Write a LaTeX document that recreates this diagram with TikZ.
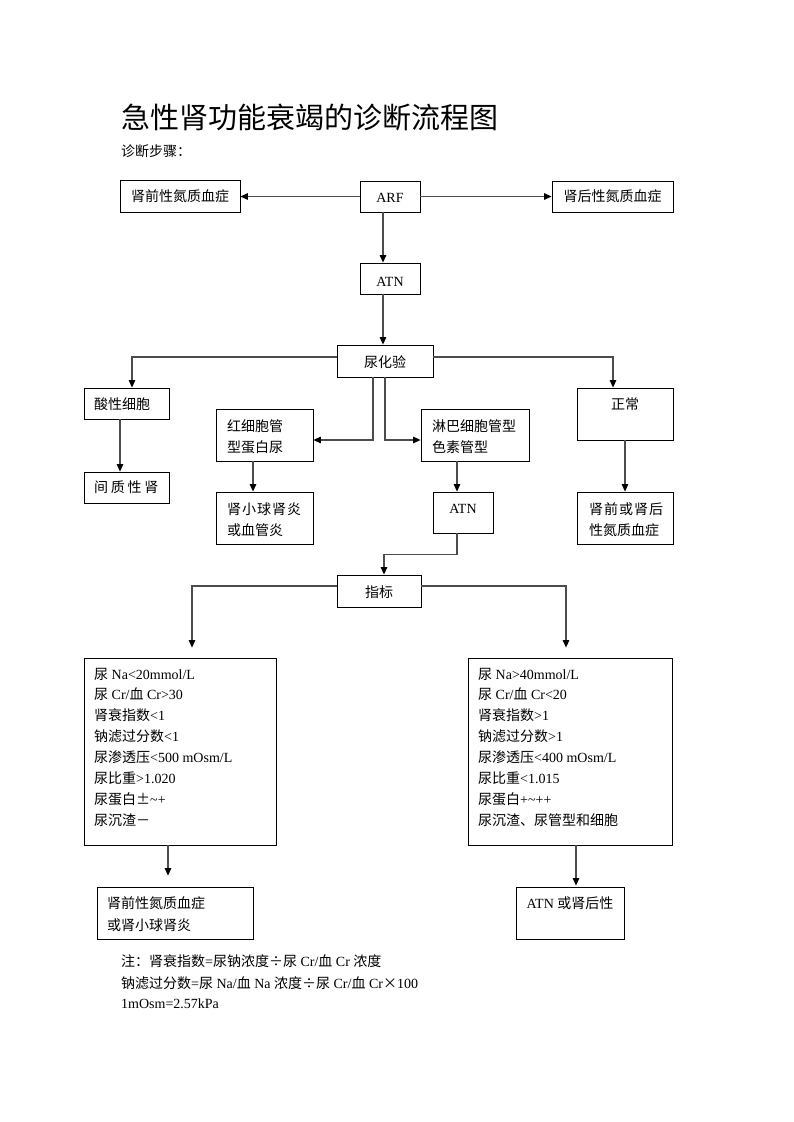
\documentclass[tikz,border=0pt]{standalone}
\usepackage{fontspec}
\setmainfont{Liberation Serif}
\newfontfamily\zh{Noto Sans CJK SC}
\usetikzlibrary{arrows.meta}
\newcommand\bx[5]{\node[box, minimum width={(#4-#2)*1pt}, minimum height={(#5-#3)*1pt}] (#1) at ({(#2+#4)/2},{(#3+#5)/2}) {};}
\begin{document}
\begin{tikzpicture}[x=1pt,y=-1pt,
  every node/.style={font=\fontsize{14}{21}\selectfont, inner sep=0pt},
  box/.style={draw=black, line width=0.8pt, rectangle, inner sep=0pt},
  arr/.style={draw=black!70, line width=1.2pt, -{Triangle[length=7.5pt,width=6.5pt,color=black]}},
  tx/.style={anchor=base},
  tl/.style={anchor=base west}]
\useasboundingbox (0,0) rectangle (793,1122);
\fill[white] (0,0) rectangle (793,1122);

% title
\node[tl] (title) at (121,128) {\zh\fontsize{29}{34}\selectfont 急性肾功能衰竭的诊断流程图};
\node[tl] (steps) at (121,156) {\zh 诊断步骤：};

% boxes
\bx{pre}{120}{180}{240}{212}
\bx{arf}{360}{181}{420}{212}
\bx{post}{552}{181}{673}{212}
\bx{atnA}{360}{263}{420}{294}
\bx{ua}{337}{345}{433}{377}
\bx{acid}{84}{388}{169}{419}
\bx{red}{216}{409}{313}{461}
\bx{lym}{421}{409}{529}{461}
\bx{normal}{577}{388}{673}{440}
\bx{inter}{84}{472}{169}{503}
\bx{glom}{216}{492}{313}{544}
\bx{atnB}{433}{492}{493}{533}
\bx{prepost}{577}{492}{673}{544}
\bx{zb}{337}{575}{421}{607}
\bx{lbig}{84}{658}{276}{845}
\bx{rbig}{468}{658}{672}{845}
\bx{lres}{97}{887}{253}{939}
\bx{rres}{516}{887}{624}{939}

% texts
\node[tx] (t-pre) at (180,201) {\zh 肾前性氮质血症};
\node[tx] (t-arf) at (390,202) {ARF};
\node[tx] (t-post) at (612.5,201) {\zh 肾后性氮质血症};
\node[tx] (t-atnA) at (390,286) {ATN};
\node[tx] (t-ua) at (385,367) {\zh 尿化验};
\node[tl] (t-acid) at (94,409) {\zh 酸性细胞};
\node[tl] (t-red1) at (227,431) {\zh 红细胞管};
\node[tl] (t-red2) at (227,452) {\zh 型蛋白尿};
\node[tl] (t-lym1) at (432,431) {\zh 淋巴细胞管型};
\node[tl] (t-lym2) at (432,452) {\zh 色素管型};
\node[tx] (t-normal) at (625,409) {\zh 正常};
\node[tl] (t-inter) at (94,492) {\zh 间\hspace{2.7pt}质\hspace{2.7pt}性\hspace{2.7pt}肾};
\node[tl] (t-glom1) at (227,514) {\zh 肾\hspace{1pt}小\hspace{1pt}球\hspace{1pt}肾\hspace{1pt}炎};
\node[tl] (t-glom2) at (227,535) {\zh 或血管炎};
\node[tx] (t-atnB) at (463,513) {ATN};
\node[tl] (t-pp1) at (589,514) {\zh 肾\hspace{1pt}前\hspace{1pt}或\hspace{1pt}肾\hspace{1pt}后};
\node[tl] (t-pp2) at (589,535) {\zh 性氮质血症};
\node[tx] (t-zb) at (379,597) {\zh 指标};

\foreach \i/\t in {0/{{\zh 尿} Na<20mmol/L},
                   1/{{\zh 尿} Cr/{\zh 血} Cr>30},
                   2/{{\zh 肾衰指数}<1},
                   3/{{\zh 钠滤过分数}<1},
                   4/{{\zh 尿渗透压}<500 mOsm/L},
                   5/{{\zh 尿比重}>1.020},
                   6/{{\zh 尿蛋白±}\textasciitilde+},
                   7/{{\zh 尿沉渣－}}}
  \node[tl] (L\i) at (94,{679+20.9*\i}) {\t};

\foreach \i/\t in {0/{{\zh 尿} Na>40mmol/L},
                   1/{{\zh 尿} Cr/{\zh 血} Cr<20},
                   2/{{\zh 肾衰指数}>1},
                   3/{{\zh 钠滤过分数}>1},
                   4/{{\zh 尿渗透压}<400 mOsm/L},
                   5/{{\zh 尿比重}<1.015},
                   6/{{\zh 尿蛋白}+\textasciitilde++},
                   7/{{\zh 尿沉渣、尿管型和细胞}}}
  \node[tl] (R\i) at (478,{679+20.9*\i}) {\t};

\node[tl] (t-lres1) at (107,908) {\zh 肾前性氮质血症};
\node[tl] (t-lres2) at (107,930) {\zh 或肾小球肾炎};
\node[tx] (t-rres) at (570,908) {ATN {\zh 或肾后性}};

\node[tl] (n1) at (121,966) {{\zh 注：肾衰指数}={\zh 尿钠浓度÷尿} Cr/{\zh 血} Cr {\zh 浓度}};
\node[tl] (n2) at (121,988) {{\zh 钠滤过分数}={\zh 尿} Na/{\zh 血} Na {\zh 浓度÷尿} Cr/{\zh 血} Cr{\zh ×}100};
\node[tl] (n3) at (121,1008) {1mOsm=2.57kPa};

% connectors
\draw[arr] (arf.west) -- (arf.west -| pre.east);
\draw[arr] (arf.east) -- (arf.east -| post.west);
\draw[arr] ([xshift=-7pt]arf.south) -- ([xshift=-7pt]arf.south |- atnA.north);
\draw[arr] ([xshift=-7pt]atnA.south) -- ([xshift=-7pt]atnA.south |- ua.north);
\draw[arr] ([yshift=4pt]ua.west) -| ([xshift=5.5pt]acid.north);
\draw[arr] ([yshift=4pt]ua.east) -| ([xshift=-12pt]normal.north);
\draw[arr] ([xshift=-12pt]ua.south) |- ([yshift=-5pt]red.east);
\draw[arr] (ua.south) |- ([yshift=-5pt]lym.west);
\draw[arr] ([xshift=-6.5pt]acid.south) -- ([xshift=-6.5pt]inter.north);
\draw[arr] ([xshift=-11.5pt]red.south) -- ([xshift=-11.5pt]glom.north);
\draw[arr] ([xshift=-6pt]atnB.north |- lym.south) -- ([xshift=-6pt]atnB.north);
\draw[arr] (normal.south) -- (prepost.north);
\draw[arr] ([xshift=-6pt]atnB.south) -- ++(0,21) -| ([xshift=5pt]zb.north);
\draw[arr, shorten >=10pt] ([yshift=5pt]zb.west) -| ([xshift=12pt]lbig.north);
\draw[arr, shorten >=10pt] ([yshift=5pt]zb.east) -| ([xshift=-4pt]rbig.north);
\draw[arr, shorten >=11pt] ([xshift=-7pt]lres.north |- lbig.south) -- ([xshift=-7pt]lres.north);
\draw[arr, shorten >=1pt] ([xshift=6pt]rres.north |- rbig.south) -- ([xshift=6pt]rres.north);
\end{tikzpicture}
\end{document}
